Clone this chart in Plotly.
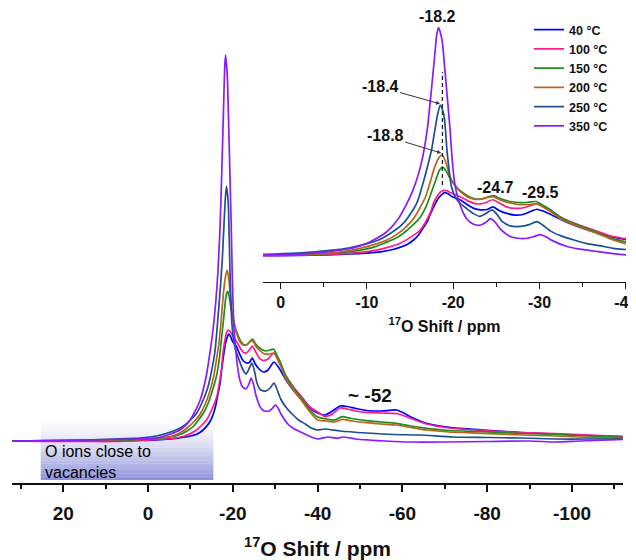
import plotly.graph_objects as go

# ---------------- data ----------------
labels = ["40 °C", "100 °C", "150 °C", "200 °C", "250 °C", "350 °C"]
colors = ["#0000ff", "#ff1a8c", "#1e8c1e", "#b8641c", "#1d4f91", "#8c1aff"]

ppm_40 = [32, 24, 15, 8, 2, -2, -5.3, -8, -10, -11.6, -13.0, -13.8, -14.7, -15.4, -16.0, -16.5, -17.0, -17.3, -17.8, -18.3, -18.7, -19.0, -19.4, -19.9, -20.4, -20.8, -21.6, -22.4, -23.2, -23.9, -24.6, -25.3, -26.2, -27.2, -28.3, -29.1, -29.7, -30.4, -31.2, -32.4, -33.5, -35, -36.3, -38.2, -40, -41.7, -43.5, -45.3, -47, -49, -51.6, -55, -58.6, -60.3, -62, -65.7, -71, -79, -88, -96, -104, -112]
int_40 = [0, 0, 0, 0, 0.5, 1, 2, 3.5, 5, 7, 11, 14.6, 20, 27, 36, 47, 58, 69, 85, 98, 104, 107, 105, 100, 97, 95, 87, 80.5, 78, 78.5, 83, 77, 72, 69, 71, 76, 79, 76, 71, 62, 55, 47, 41, 33, 28, 26, 30, 35, 34.5, 32.5, 30.5, 30, 31, 28, 24, 17.7, 13.7, 11, 8.5, 7, 5.5, 4.3]

ppm_100 = [32, 24, 15, 8, 2, -2, -5.3, -7.2, -9.2, -11.1, -12.5, -13.8, -15.0, -16.2, -16.9, -17.4, -17.7, -18.1, -18.5, -18.9, -19.3, -19.7, -20.2, -20.8, -21.6, -22.4, -23.2, -23.9, -24.6, -25.3, -26.2, -27.2, -28.3, -29.1, -29.7, -30.5, -31.4, -32.4, -34.3, -36.3, -38.2, -40, -41.7, -43.5, -45.3, -47, -49, -51.6, -55, -58.6, -60.5, -62, -65.7, -71, -79, -88, -96, -104, -112]
int_100 = [0, -0.5, -0.5, -0.5, 0.5, 1.5, 2.5, 3.5, 6, 10, 15, 21, 31, 44, 60, 75, 89, 100, 108, 111, 110, 107, 104, 100, 94, 89, 88, 91, 95, 90, 83, 80.5, 82, 86, 88, 83, 75, 66, 54, 44, 34, 29, 24.5, 27, 33, 32, 30, 28.5, 28, 27.5, 25, 22.7, 17, 13, 10.5, 8.5, 7.5, 6, 4.5]

ppm_150 = [32, 24, 15, 8, 2, -2, -5.3, -7.5, -9.2, -10.8, -11.9, -13.2, -14.2, -15.3, -16.2, -16.9, -17.4, -17.9, -18.4, -18.8, -19.2, -19.6, -20.0, -20.6, -21.2, -22.0, -22.7, -23.5, -24.1, -24.7, -25.4, -26.6, -27.8, -28.8, -29.6, -30.5, -31.4, -32.4, -34.3, -36.3, -38.2, -40, -42.1, -44, -45.8, -48, -51.6, -55, -58.5, -62, -65.7, -71, -79, -88, -96, -104, -112]
int_150 = [0, 0, 0, 0.5, 1.5, 2.5, 4, 6.5, 10, 15, 21, 29, 38, 52, 66, 85, 105, 125, 145, 150, 143, 132, 124, 113, 106, 99, 96, 97, 100, 102, 97, 92, 90, 91, 92, 85, 77, 66, 53, 42, 31, 24, 22, 21, 24.3, 22.5, 20.3, 19, 17.7, 15, 12.7, 10.5, 9.3, 7.5, 6.5, 5, 3.7]

ppm_200 = [32, 24, 15, 8, 2, -2, -5.3, -7.5, -9.2, -11, -12.3, -13.5, -14.6, -15.5, -16.2, -16.8, -17.3, -17.8, -18.3, -18.7, -19.1, -19.5, -19.8, -20.3, -20.8, -21.6, -22.4, -23.2, -24.0, -24.7, -25.4, -26.2, -27.5, -28.7, -29.7, -30.5, -31.4, -32.4, -34.3, -36.3, -38.2, -40, -42.1, -44, -45.8, -48, -51.6, -55, -58.5, -62, -65.7, -71, -79, -88, -96, -104, -112]
int_200 = [0, 0, 0.5, 1, 2, 3, 4.5, 8, 13, 20, 27, 37, 50, 65, 83, 100, 123, 148, 165, 171, 160, 140, 128, 117, 109, 100, 96, 96, 99, 100, 95, 91, 87, 87, 88, 82, 74, 63, 51, 40, 29, 21, 20, 19, 21.7, 20, 18.3, 17, 16, 13.5, 11, 9, 7.7, 6, 5, 3.5, 2.7]

ppm_250 = [32, 24, 15, 8, 2, -2, -6, -8, -10, -11.5, -12.7, -14, -14.8, -15.8, -16.5, -17.0, -17.5, -17.9, -18.2, -18.5, -18.8, -19.0, -19.3, -19.8, -20.3, -20.8, -21.4, -22.3, -23.1, -23.8, -24.5, -25.1, -25.7, -26.6, -27.8, -28.8, -29.7, -30.4, -31.3, -32.5, -34, -35.5, -37.1, -38.5, -40, -41.7, -45.3, -51.6, -58, -64, -72, -80, -88, -96, -104, -112]
int_250 = [0, 0.5, 1, 2, 3, 5, 10, 14, 21, 28, 38, 52, 66, 90, 123, 150, 180, 215, 240, 255, 245, 230, 175, 117, 98, 89, 82, 72, 67, 72, 78, 70, 58, 51, 50, 53, 58, 52, 42, 34, 27, 21, 17, 13, 11, 12, 10, 8, 6.5, 6, 4, 3.5, 3, 2, 2, 2]

ppm_350 = [32, 24, 15, 8, 2, -2, -5.3, -7.5, -9.2, -10.5, -12.3, -13.6, -14.5, -15.3, -16.0, -16.5, -17.0, -17.4, -17.8, -18.1, -18.3, -18.7, -19.0, -19.3, -19.6, -19.9, -20.2, -20.6, -21.1, -21.6, -22.3, -23.1, -23.8, -24.3, -24.8, -25.5, -26.6, -27.5, -28.6, -29.4, -30.1, -30.8, -31.5, -33.2, -34.5, -36.3, -38, -40, -42.5, -44.6, -46, -49, -52, -56, -62, -70, -80, -90, -96, -102, -112]
int_350 = [0, 0.5, 1, 1.5, 2, 3, 7, 11, 17, 25, 41, 62, 85, 110, 140, 170, 215, 270, 330, 375, 386, 365, 320, 270, 220, 160, 120, 95, 75, 62, 54, 52, 57, 63, 58, 45, 33, 30, 30, 33, 36, 32, 26, 16, 12, 8.5, 5, 2, 4, 2.7, 4, 2, 1, 0, -1, -1, -0.5, 0, -1, 0, 1.5]

ppm_lists = [ppm_40, ppm_100, ppm_150, ppm_200, ppm_250, ppm_350]
int_lists = [int_40, int_100, int_150, int_200, int_250, int_350]

main_ticks = [20, 0, -20, -40, -60, -80, -100]
inset_ticks = [0, -10, -20, -30, -40]

# ---------------- layout helpers ----------------
# page body has an 8 px margin, so the figure is drawn 8 px lower/righter than its own origin
OFF = 8
W, H = 628, 552
ML, MR, MT, MB = 4, 10, 0, 77
PW = W - ML - MR          # 614
PH = H - MT - MB          # 475


def px(x):   # page pixel x -> paper
    return (x - OFF - ML) / PW


def py(y):   # page pixel y -> paper
    return (PH - (y - OFF - MT)) / PH


FONT = "Arial, Liberation Sans, sans-serif"

fig = go.Figure()

for lab, col, xs, ys in zip(labels, colors, ppm_lists, int_lists):
    fig.add_trace(go.Scatter(x=xs, y=ys, mode="lines", name=lab,
                             line=dict(color=col, width=1.7, shape="spline", smoothing=0.6),
                             xaxis="x", yaxis="y", showlegend=True))
for lab, col, xs, ys in zip(labels, colors, ppm_lists, int_lists):
    fig.add_trace(go.Scatter(x=xs, y=ys, mode="lines", name=lab,
                             line=dict(color=col, width=1.7, shape="spline", smoothing=0.6),
                             xaxis="x2", yaxis="y2", showlegend=False))

# gradient box "O ions close to vacancies"
n = 40
top, bot = 26, -39
c0 = (255, 255, 255)
c1 = (140, 144, 217)
for i in range(n):
    t = (i + 0.5) / n
    tt = t ** 1.6
    c = tuple(round(c0[k] + (c1[k] - c0[k]) * tt) for k in range(3))
    y0 = top - (top - bot) * i / n
    y1 = top - (top - bot) * (i + 1) / n
    fig.add_shape(type="rect", xref="x", yref="y", x0=25.3, x1=-15.4, y0=y1, y1=y0 + 0.3,
                  fillcolor="rgb(%d,%d,%d)" % c, line=dict(width=0), layer="below")

# dashed vertical line in inset
fig.add_shape(type="line", xref="x2", yref="y2", x0=-18.75, x1=-18.75, y0=120, y1=311,
              line=dict(color="#222222", width=1.3, dash="4px,3px"))

annots = []
annots.append(dict(xref="paper", yref="paper", x=px(43), y=py(462), xanchor="left", yanchor="middle",
                   text="O ions close to<br>vacancies", showarrow=False, align="left",
                   font=dict(family=FONT, size=16, color="#000000")))
bold_labels = [("-18.2", 437, 17, 16), ("-24.7", 495, 187, 16), ("-29.5", 540, 192, 16), ("~ -52", 370, 395, 19)]
for t, x, y, s in bold_labels:
    annots.append(dict(xref="paper", yref="paper", x=px(x), y=py(y), xanchor="center", yanchor="middle",
                       text="<b>%s</b>" % t, showarrow=False, font=dict(family=FONT, size=s, color="#111")))
annots.append(dict(xref="x2", yref="y2", x=-18.47, y=257, ax=-60, ay=-17, text="<b>-18.4</b>",
                   showarrow=True, arrowhead=2, arrowsize=0.8, arrowwidth=1, arrowcolor="#333",
                   font=dict(family=FONT, size=16, color="#111")))
annots.append(dict(xref="x2", yref="y2", x=-18.6, y=174, ax=-56, ay=-17, text="<b>-18.8</b>",
                   showarrow=True, arrowhead=2, arrowsize=0.8, arrowwidth=1, arrowcolor="#333",
                   font=dict(family=FONT, size=16, color="#111")))

fig.update_layout(
    width=W, height=H,
    margin=dict(l=ML, r=MR, t=MT, b=MB),
    paper_bgcolor="white", plot_bgcolor="rgba(0,0,0,0)",
    font=dict(family=FONT, color="#111"),
    showlegend=True,
    legend=dict(x=px(529), y=py(15), xanchor="left", yanchor="top", bgcolor="rgba(0,0,0,0)",
                font=dict(family=FONT, size=12.5, color="#111", weight="bold"),
                itemwidth=30, tracegroupgap=0),
    xaxis=dict(domain=[0, (623 - 12) / PW], range=[32.08, -112.03], showgrid=False, zeroline=False,
               showline=True, linecolor="#111", linewidth=1.5, ticks="outside", ticklen=7, tickwidth=1.5,
               tickcolor="#111", tickvals=main_ticks, ticktext=[str(v) for v in main_ticks],
               tickfont=dict(family=FONT, size=19, color="#111", weight="bold"),
               ticklabeloverflow="allow", ticklabelstandoff=5,
               minor=dict(dtick=10, tick0=0, ticks="outside", ticklen=4, tickwidth=1.5, tickcolor="#111"),
               title=dict(text="<sup>17</sup>O Shift / ppm", standoff=20,
                          font=dict(family=FONT, size=21, color="#111", weight="bold"))),
    yaxis=dict(domain=[0, 1], range=[-42, 433], visible=False),
    xaxis2=dict(domain=[(263 - 12) / PW, 1.0], range=[2.05, -40.03], anchor="y2", showgrid=False,
                zeroline=False, showline=True, linecolor="#111", linewidth=1.3, ticks="outside", ticklen=6,
                tickwidth=1.3, tickcolor="#111", tickvals=inset_ticks, ticktext=[str(v) for v in inset_ticks],
                tickfont=dict(family=FONT, size=16, color="#111", weight="bold"),
                ticklabeloverflow="allow",
                minor=dict(dtick=5, tick0=0, ticks="outside", ticklen=4, tickwidth=1.3, tickcolor="#111"),
                title=dict(text="<sup>17</sup>O Shift / ppm", standoff=10,
                           font=dict(family=FONT, size=16, color="#111", weight="bold"))),
    yaxis2=dict(domain=[(PH - (282 - OFF)) / PH, 1.0], range=[-43.9, 418.9], anchor="x2", visible=False),
    annotations=annots,
)

fig.write_html("out.html")
